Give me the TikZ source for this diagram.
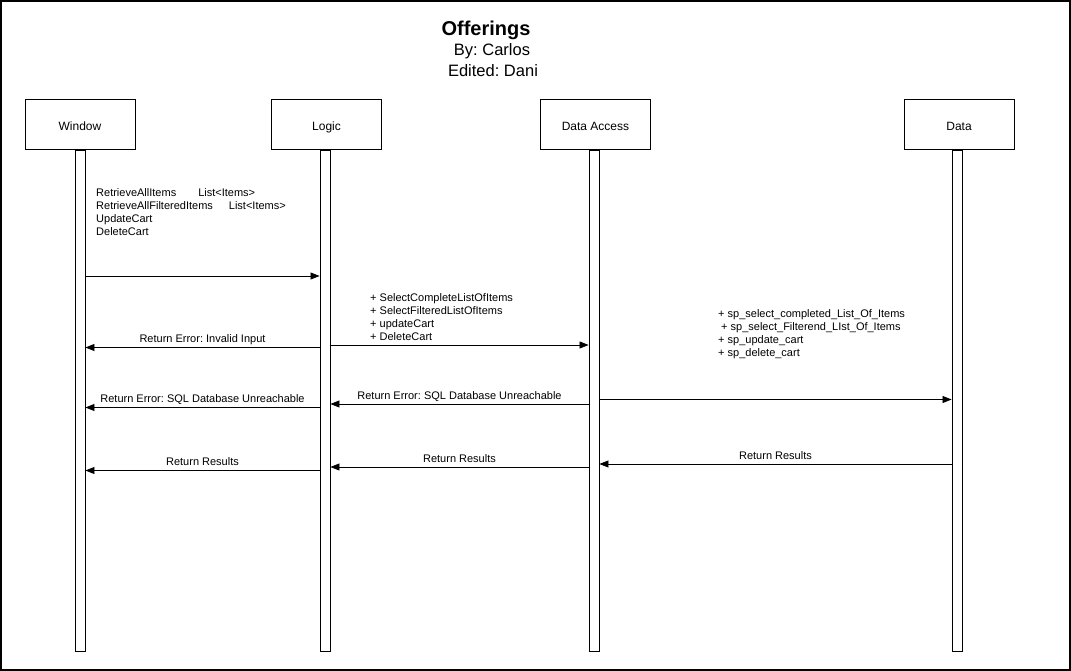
\documentclass[tikz,border=0pt]{standalone}
\usepackage{fontspec}
\setmainfont{Liberation Sans}
\usetikzlibrary{arrows.meta,positioning}
\frenchspacing

\begin{document}
\begin{tikzpicture}[x=1pt,y=-1pt,
		actor/.style={draw, line width=1pt, minimum width=110pt, minimum height=50pt, text height=11pt, text depth=0pt, font=\fontsize{12}{14}\selectfont},
		life/.style={draw, line width=0.9pt, minimum width=10pt, minimum height=500pt, inner sep=0pt},
		msg/.style={draw, line width=0.8pt, -{Triangle[length=9pt,width=7pt]}},
		lbl/.style={font=\fontsize{11}{13}\selectfont, inner sep=0pt, text height=8pt, text depth=2.5pt},
		note/.style={font=\fontsize{11}{13}\selectfont, inner sep=0pt, align=left, anchor=north west}]

		\useasboundingbox (0,0) rectangle (1071,671);
		\draw[line width=2pt] (1,1) rectangle (1070,670);

		% Title
		\node[font=\bfseries\fontsize{20}{24}\selectfont] (title) at (486,30) {Offerings};
		\node[font=\fontsize{16.5}{20}\selectfont] (by) at (492,51) {By: Carlos};
		\node[font=\fontsize{16.5}{20}\selectfont] (ed) at (493,71) {Edited: Dani};

		% Participants
		\node[actor] (win) at (80,125) {Window};
		\node[actor] (log) at (326.5,125) {Logic};
		\node[actor] (acc) at (595.5,125) {Data Access};
		\node[actor] (dat) at (959,125) {Data};

		% Lifelines
		\node[life, below=0pt of win] (winL) {};
		\node[life, below=0pt of log, xshift=-1.5pt] (logL) {};
		\node[life, below=0pt of acc, xshift=-1.5pt] (accL) {};
		\node[life, below=0pt of dat, xshift=-2pt] (datL) {};

		% Notes
		\node[note] (n1) at (96,188) {RetrieveAllItems\hspace{22pt}List<Items>\\
			RetrieveAllFilteredItems\hspace{16pt}List<Items>\\ UpdateCart\\ DeleteCart};
		\node[note] (n2) at (370,293) {+ SelectCompleteListOfItems\\ + SelectFilteredListOfItems\\
			+ updateCart\\ + DeleteCart};
		\node[note] (n3) at (718,309) {+ sp\_select\_completed\_List\_Of\_Items\\
			\hspace{3pt}+ sp\_select\_Filterend\_LIst\_Of\_Items\\ + sp\_update\_cart\\ + sp\_delete\_cart};

		% Messages
		\draw[msg] (winL.east |- 0,276) -- (logL.west |- 0,276);
		\draw[msg] (logL.west |- 0,347.5) -- node[lbl, above=2pt] {Return Error: Invalid Input} (winL.east |- 0,347.5);
		\draw[msg] (logL.east |- 0,345) -- (accL.west |- 0,345);
		\draw[msg] (accL.east |- 0,399.5) -- (datL.west |- 0,399.5);
		\draw[msg] (accL.west |- 0,404) -- node[lbl, above=2pt] {Return Error: SQL Database Unreachable} (logL.east |- 0,404);
		\draw[msg] (logL.west |- 0,407.5) -- node[lbl, above=2pt] {Return Error: SQL Database Unreachable} (winL.east |- 0,407.5);
		\draw[msg] (datL.west |- 0,464) -- node[lbl, above=2pt] {Return Results} (accL.east |- 0,464);
		\draw[msg] (accL.west |- 0,467) -- node[lbl, above=2pt] {Return Results} (logL.east |- 0,467);
		\draw[msg] (logL.west |- 0,470.5) -- node[lbl, above=2pt] {Return Results} (winL.east |- 0,470.5);
	\end{tikzpicture}
\end{document}
